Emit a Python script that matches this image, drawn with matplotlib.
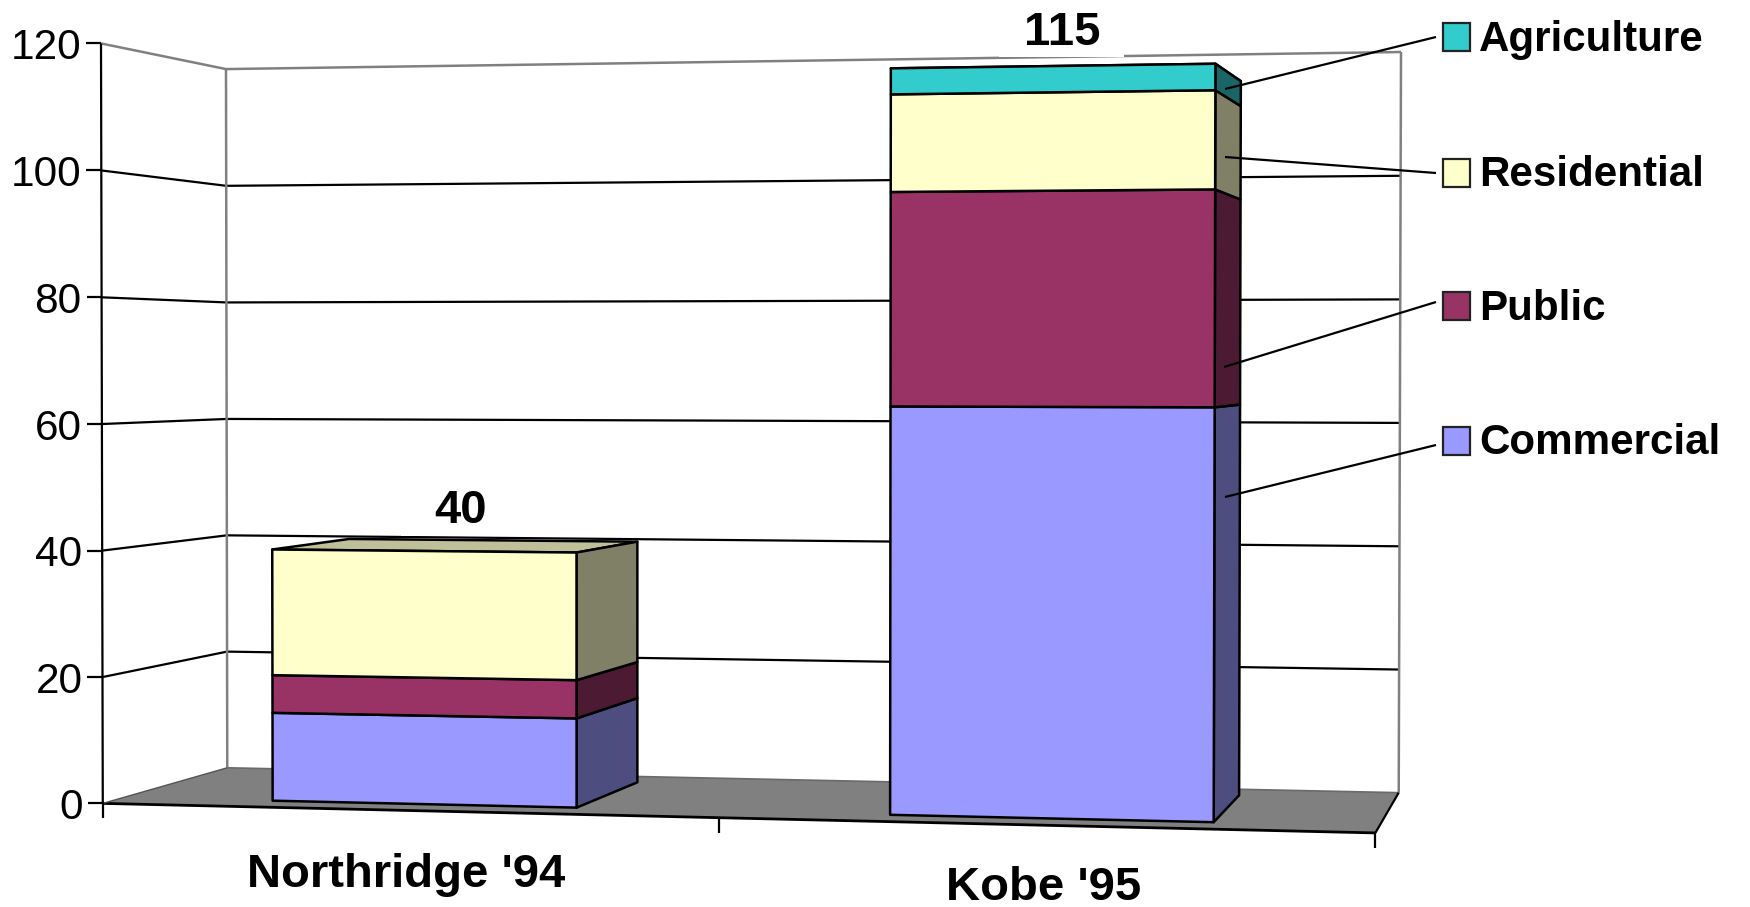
import numpy as np
import matplotlib
matplotlib.use("Agg")
import matplotlib.pyplot as plt
from matplotlib.patches import Polygon, Rectangle
from matplotlib.colors import to_rgb

plt.rcParams["font.family"] = ["Liberation Sans", "DejaVu Sans"]

# Chart data: economic losses per earthquake, stacked by sector
categories = ["Northridge '94", "Kobe '95"]
sectors = ["Commercial", "Public", "Residential", "Agriculture"]
commercial = [14, 63]
public = [6, 33]
residential = [20, 15]
agriculture = [0, 4]
totals = [40, 115]
y_ticks = [0, 20, 40, 60, 80, 100, 120]
sector_colors = ["#9999FF", "#993366", "#FFFFCC", "#33CCCC"]

# Bar footprint in plot-box units: one category per unit along x, depth 0..1 along z
BAR_HALF = 0.25
DEPTH_FRONT, DEPTH_BACK = 0.16, 0.84

# Perspective camera solved from where the plot box's corners fall on the canvas
box_world = np.array([(0, 120, 0), (0, 0, 0), (2, 0, 0), (0, 120, 1), (0, 0, 1),
                      (2, 120, 1), (2, 0, 1), (1, 0, 0)], float)
box_canvas = np.array([(101, 43), (103, 803), (1375, 833.5), (226, 69.5), (227, 768),
                       (1401, 52), (1399, 792), (719, 818)], float)


def solve_camera(world, canvas):
    rows = []
    for (X, Y, Z), (u, v) in zip(world, canvas):
        rows.append([X, Y, Z, 1, 0, 0, 0, 0, -u * X, -u * Y, -u * Z, -u])
        rows.append([0, 0, 0, 0, X, Y, Z, 1, -v * X, -v * Y, -v * Z, -v])
    return np.linalg.svd(np.array(rows))[2][-1].reshape(3, 4)


CAMERA = solve_camera(box_world, box_canvas)


def project(x, y, z):
    h = CAMERA @ np.array([x, y, z, 1.0])
    return h[:2] / h[2]


def shade(color, factor):
    return tuple(c * factor for c in to_rgb(color))


fig = plt.figure(figsize=(17.5, 9.07), dpi=100, facecolor="white")
ax = fig.add_axes([0, 0, 1, 1])
ax.set_xlim(0, 1750)
ax.set_ylim(907, 0)
ax.axis("off")

LINE = 1.6
GRAY = "#808080"


def segment(p, q, color="black", lw=LINE, z=2):
    ax.plot([p[0], q[0]], [p[1], q[1]], color=color, lw=lw, zorder=z,
            solid_capstyle="butt")


# Floor of the plot box
floor = [project(0, 0, 0), project(2, 0, 0), project(2, 0, 1), project(0, 0, 1)]
ax.add_patch(Polygon(floor, closed=True, facecolor=GRAY, edgecolor="none", zorder=1))
segment(project(0, 0, 0), project(2, 0, 0), lw=2.0, z=3)
segment(project(2, 0, 0), project(2, 0, 1), lw=1.6, z=3)
segment(project(0, 0, 0), project(0, 0, 1), color="#555555", lw=1.0, z=3)

# Gridlines across the left and back walls
for v in y_ticks[1:-1]:
    a, b, c = project(0, v, 0), project(0, v, 1), project(2, v, 1)
    segment(a, b)
    segment(b, c)

# Wall frame
segment(project(0, 0, 1), project(0, 120, 1), color=GRAY, lw=1.8)
segment(project(2, 0, 1), project(2, 120, 1), color=GRAY, lw=1.8)
segment(project(0, 120, 0), project(0, 120, 1), color=GRAY, lw=1.8)
segment(project(0, 120, 1), project(2, 120, 1), color=GRAY, lw=1.8)
segment(project(0, 0, 1), project(2, 0, 1), color="#6a6a6a", lw=1.2)

# Value axis with ticks and labels
segment(project(0, 0, 0), project(0, 120, 0), z=3)
for v in y_ticks:
    p = project(0, v, 0)
    segment((p[0] - 15, p[1]), p, z=3)
    ax.text(p[0] - 20, p[1], str(v), ha="right", va="center_baseline",
            fontsize=30.5, color="black", zorder=6)

# Category ticks below the front floor edge
for i in range(len(categories) + 1):
    p = project(i, 0, 0)
    segment(p, (p[0], p[1] + 15), z=3)

# Stacked bars, each sector as a front face, a darker side and, when visible, a top
stacks = [commercial, public, residential, agriculture]
EDGE = dict(edgecolor="black", linewidth=1.8, joinstyle="round")
for i in range(len(categories)):
    x0, x1 = i + 0.5 - BAR_HALF, i + 0.5 + BAR_HALF
    base = 0
    top_color = None
    layers = []
    for values, color in zip(stacks, sector_colors):
        if values[i] > 0:
            layers.append((base, base + values[i], color))
            base += values[i]
            top_color = color
    top = [project(x0, base, DEPTH_FRONT), project(x1, base, DEPTH_FRONT),
           project(x1, base, DEPTH_BACK), project(x0, base, DEPTH_BACK)]
    ax.add_patch(Polygon(top, closed=True, facecolor=shade(top_color, 0.75), zorder=4, **EDGE))
    for low, high, color in layers:
        side = [project(x1, low, DEPTH_FRONT), project(x1, high, DEPTH_FRONT),
                project(x1, high, DEPTH_BACK), project(x1, low, DEPTH_BACK)]
        front = [project(x0, low, DEPTH_FRONT), project(x1, low, DEPTH_FRONT),
                 project(x1, high, DEPTH_FRONT), project(x0, high, DEPTH_FRONT)]
        ax.add_patch(Polygon(side, closed=True, facecolor=shade(color, 0.5), zorder=4, **EDGE))
        ax.add_patch(Polygon(front, closed=True, facecolor=color, zorder=5, **EDGE))

# Total labels sit on white boxes that clip the line beneath them
label_boxes = [(401, 490, 124, 45.5), (999, 5, 125, 51.5)]
label_centers = [(461, 506), (1062, 28)]
for total, box, center in zip(totals, label_boxes, label_centers):
    ax.add_patch(Rectangle(box[:2], box[2], box[3], facecolor="white", edgecolor="none", zorder=3.5))
    ax.text(center[0], center[1], str(total), ha="center", va="center_baseline",
            fontsize=34, fontweight="bold", zorder=6)

# Category labels
for name, center in zip(categories, [(406, 870), (1044, 883)]):
    ax.text(center[0], center[1], name, ha="center", va="center_baseline",
            fontsize=34, fontweight="bold", zorder=6)

# Legend, top entry first, with leader lines running to the side faces of the taller bar
legend_order = [3, 2, 1, 0]
swatch_tops = [23, 159, 292, 427]
leader_starts = [(1225, 89), (1225, 157), (1224, 367), (1225, 497)]
leader_ends = [(1436, 37), (1436, 173), (1436, 302), (1436, 445)]
for idx, sy, start, end in zip(legend_order, swatch_tops, leader_starts, leader_ends):
    ax.add_patch(Rectangle((1443, sy), 27, 28, facecolor=sector_colors[idx],
                           edgecolor="#222222", linewidth=1.6, zorder=6))
    ax.text(1479, sy + 12, sectors[idx], ha="left", va="center_baseline",
            fontsize=30.3, fontweight="bold", zorder=6)
    segment(start, end, lw=1.6, z=7)

fig.savefig("out.png", dpi=100, facecolor="white")
